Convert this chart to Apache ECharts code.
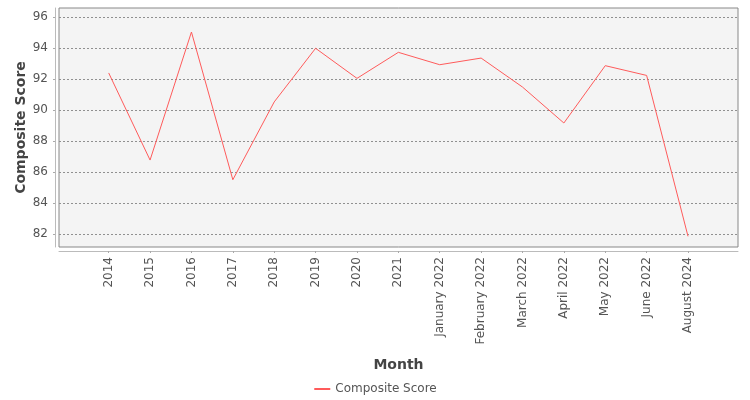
<!DOCTYPE html>
<html>
<head>
<meta charset="utf-8">
<script src="https://cdn.jsdelivr.net/npm/echarts@6/dist/echarts.min.js"></script>
<style>
    html, body { margin: 0; padding: 0; background: #fff; }
    #chart { width: 750px; height: 400px; }
</style>
</head>
<body>
<div id="chart"></div>
<script>
    var months = ['2014', '2015', '2016', '2017', '2018', '2019', '2020', '2021',
        'January 2022', 'February 2022', 'March 2022', 'April 2022', 'May 2022', 'June 2022', 'August 2024'];
    var composite = [92.39, 86.77, 95.03, 85.5, 90.52, 93.98, 92.04, 93.72,
        92.92, 93.35, 91.48, 89.16, 92.86, 92.23, 81.85];
    var yTicks = [82, 84, 86, 88, 90, 92, 94, 96];
    var yMin = 81.16, yMax = 96.58;

    var font = 'DejaVu Sans';
    var chart = echarts.init(document.getElementById('chart'));

    var option = {
        animation: false,
        textStyle: { fontFamily: font },
        grid: [
            // plot frame, full width
            { left: 59, right: 12, top: 8, bottom: 153, show: true,
              backgroundColor: '#f4f4f4', borderColor: '#888', borderWidth: 1 },
            // data area, categories inset like the original
            { left: 88, right: 41.3, top: 8, bottom: 153 }
        ],
        legend: {
            data: ['Composite Score'],
            left: 'center',
            top: 378,
            itemWidth: 16,
            itemHeight: 2,
            itemGap: 10,
            textStyle: { fontFamily: font, fontSize: 12, color: '#555' }
        },
        xAxis: [{
            gridIndex: 0,
            type: 'category',
            data: [''],
            offset: 4,
            axisLine: { show: true, lineStyle: { color: '#bbb' } },
            axisTick: { show: false },
            axisLabel: { show: false },
            name: 'Month',
            nameLocation: 'middle',
            nameGap: 107,
            nameTextStyle: { fontFamily: font, fontSize: 14, fontWeight: 'bold', color: '#444' }
        }, {
            gridIndex: 1,
            type: 'category',
            data: months,
            offset: 4,
            boundaryGap: true,
            axisLine: { show: false },
            axisTick: { show: true, alignWithLabel: true, length: 2, lineStyle: { color: '#aaa' } },
            axisLabel: { rotate: 90, margin: 6, interval: 0, fontSize: 12, color: '#555', fontFamily: font }
        }],
        yAxis: [{
            gridIndex: 0,
            type: 'value',
            min: yMin,
            max: yMax,
            offset: 4,
            axisLine: { show: true, lineStyle: { color: '#bbb' } },
            axisTick: { show: true, length: 2, customValues: yTicks, lineStyle: { color: '#aaa' } },
            axisLabel: { customValues: yTicks, margin: 7, fontSize: 12, color: '#555', fontFamily: font },
            splitLine: { show: true, lineStyle: { color: '#909090', type: [2, 2], width: 1 } },
            name: 'Composite Score',
            nameLocation: 'middle',
            nameGap: 27,
            nameMoveOverlap: false,
            nameTextStyle: { fontFamily: font, fontSize: 14, fontWeight: 'bold', color: '#444' }
        }, {
            gridIndex: 1,
            type: 'value',
            min: yMin,
            max: yMax,
            show: false
        }],
        series: [{
            name: 'Composite Score',
            type: 'line',
            xAxisIndex: 1,
            yAxisIndex: 1,
            symbol: 'none',
            lineStyle: { color: '#ff5b5b', width: 1 },
            itemStyle: { color: '#ff5b5b' },
            emphasis: { disabled: true },
            data: composite
        }]
    };
    chart.setOption(option);
</script>
</body>
</html>
